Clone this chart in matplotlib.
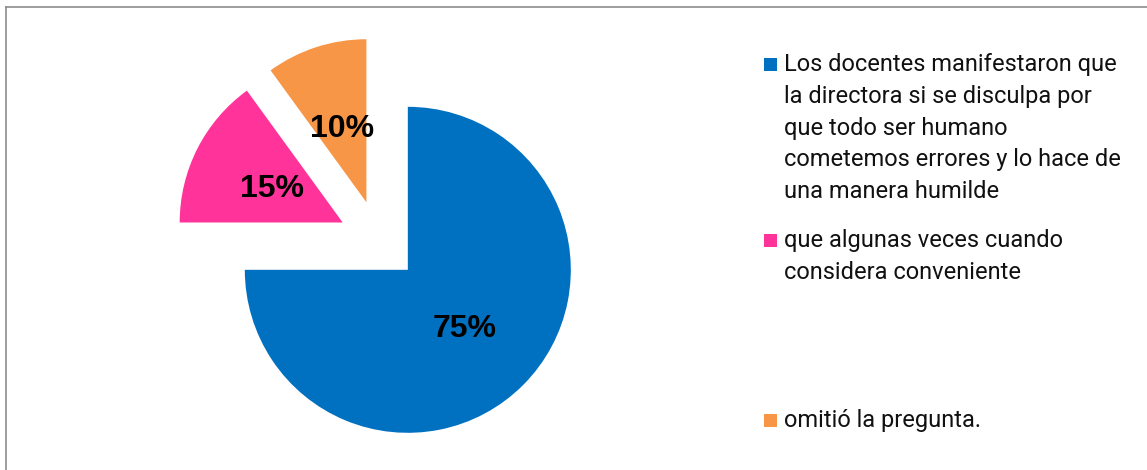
import matplotlib
matplotlib.use("Agg")
import matplotlib.pyplot as plt
from matplotlib.patches import Rectangle
from matplotlib.lines import Line2D

# Data
categories = [
    "Los docentes manifestaron que\nla directora si se disculpa por\nque todo ser humano\ncometemos errores y lo hace de\nuna manera humilde",
    "que algunas veces cuando\nconsidera conveniente",
    "omitió la pregunta.",
]
values = [75, 15, 10]
colors = ["#0070C0", "#FF3399", "#F79646"]

W, H = 1147, 470
fig = plt.figure(figsize=(W / 100, H / 100), dpi=100)
ax = fig.add_axes([0, 0, 1, 1])

R = 163
cx, cy = 379, H - 241
wedges, texts, autotexts = ax.pie(
    values, colors=colors, startangle=90, counterclock=False,
    explode=[0.25 * R] * len(values), radius=R, center=(cx, cy),
    autopct=lambda p: f"{p:.0f}%", pctdistance=0.49,
    wedgeprops=dict(linewidth=0),
    textprops=dict(fontsize=23, fontweight="bold", color="black",
                   family="Liberation Sans"),
    frame=False,
)
for t in autotexts:
    x, y = t.get_position()
    t.set_position((x, y - 3))
ax.set_xlim(0, W)
ax.set_ylim(0, H)
ax.set_aspect("auto")
ax.axis("off")

# Legend (manual, Excel-like spacing)
first_baselines = [71, 247, 427]
line_step = 31.8
text_x = 784
for lab, col, yb in zip(categories, colors, first_baselines):
    ax.add_patch(Rectangle((764, H - yb), 13, 13, facecolor=col,
                           edgecolor="none"))
    for i, line in enumerate(lab.split("\n")):
        ax.text(text_x, H - (yb + i * line_step), line, fontsize=17,
                family="Roboto", color="#111111", va="baseline", ha="left")

# Frame lines (top and left)
fig.add_artist(Line2D([5.5 / W, 5.5 / W], [0, 1 - 6.5 / H],
                      transform=fig.transFigure, color="#8c8c8c", lw=1.2))
fig.add_artist(Line2D([5.5 / W, 1], [1 - 6.5 / H, 1 - 6.5 / H],
                      transform=fig.transFigure, color="#8c8c8c", lw=1.2))

fig.savefig("out.png", dpi=100, facecolor="white")
